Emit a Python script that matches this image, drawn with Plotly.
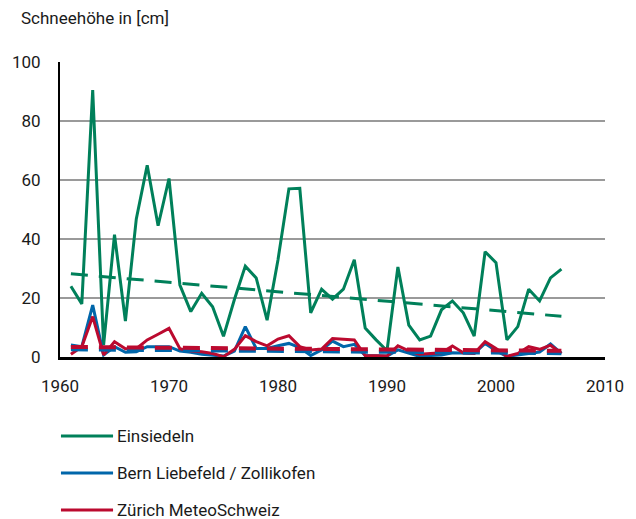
import plotly.graph_objects as go

years = [1961, 1962, 1963, 1964, 1965, 1966, 1967, 1968, 1969, 1970,
         1971, 1972, 1973, 1974, 1975, 1976, 1977, 1978, 1979, 1980,
         1981, 1982, 1983, 1984, 1985, 1986, 1987, 1988, 1989, 1990,
         1991, 1992, 1993, 1994, 1995, 1996, 1997, 1998, 1999, 2000,
         2001, 2002, 2003, 2004, 2005, 2006]

einsiedeln = [24, 18, 90.5, 4, 41.5, 12.2, 46.8, 65, 44.5, 60.5,
              24.4, 15.4, 21.6, 17, 7, 19.5, 30.8, 26.8, 12.5, 33,
              57, 57.2, 15, 23, 19.6, 23, 33, 9.8, 5.8, 2.1,
              30.5, 10.8, 5.8, 7.1, 16, 19, 15, 7.1, 35.7, 32,
              5.8, 10.3, 23, 19, 26.8, 29.8]

bern = [4.1, 3.5, 17.6, 0.7, 3.5, 1.6, 1.8, 3.5, 3.5, 3.5,
        2.0, 1.6, 0.9, 0.7, 0.3, 2.0, 10.3, 2.9, 2.9, 3.8,
        4.6, 3.2, 0.5, 2.4, 5.4, 3.5, 4.3, 0.5, 0.5, 0.3,
        2.4, 1.3, 0.2, 0.5, 0.7, 1.4, 1.2, 1.2, 4.6, 2.1,
        0.2, 0.6, 1.2, 1.7, 4.4, 1.2]

zuerich = [0.9, 3.5, 13.7, 0.7, 5.2, 2.8, 2.8, 5.8, 7.7, 9.7,
           2.8, 2.0, 1.8, 1.2, 0.1, 2.6, 7.2, 5.2, 3.8, 6.1,
           7.2, 3.5, 2.4, 2.7, 6.3, 6.1, 5.8, 0.5, 0.3, 0.3,
           3.8, 2.1, 0.9, 1.2, 1.4, 3.7, 1.4, 1.2, 5.2, 2.9,
           0.2, 1.2, 3.5, 2.6, 4.0, 1.2]

trend_years = [1961, 2006]
trend_einsiedeln = [28.2, 13.8]
trend_bern = [2.6, 1.3]
trend_zuerich = [3.4, 2.1]

series_names = ["Einsiedeln", "Bern Liebefeld / Zollikofen", "Zürich MeteoSchweiz"]
x_ticks = [1960, 1970, 1980, 1990, 2000, 2010]
y_ticks = [0, 20, 40, 60, 80, 100]

GREEN = "#00805A"
BLUE = "#0066AA"
RED = "#BB0A2F"
FONT = "Roboto, Liberation Sans, sans-serif"
TXT = "#1a1a1a"
FS = 17

fig = go.Figure()
fig.add_trace(go.Scatter(x=years, y=einsiedeln, mode="lines",
                         line=dict(color=GREEN, width=3), name=series_names[0]))
fig.add_trace(go.Scatter(x=years, y=bern, mode="lines",
                         line=dict(color=BLUE, width=3), name=series_names[1]))
fig.add_trace(go.Scatter(x=years, y=zuerich, mode="lines",
                         line=dict(color=RED, width=3), name=series_names[2]))
fig.add_trace(go.Scatter(x=trend_years, y=trend_einsiedeln, mode="lines",
                         line=dict(color=GREEN, width=3, dash="17px,11px")))
fig.add_trace(go.Scatter(x=trend_years, y=trend_bern, mode="lines",
                         line=dict(color=BLUE, width=4, dash="17px,11px")))
fig.add_trace(go.Scatter(x=trend_years, y=trend_zuerich, mode="lines",
                         line=dict(color=RED, width=4, dash="17px,11px")))

W, H = 636, 519
L, R, T, B = 52, 19, 62, 162
fig.update_layout(
    width=W, height=H,
    margin=dict(l=L, r=R, t=T, b=B),
    paper_bgcolor="white", plot_bgcolor="white",
    showlegend=False,
    hovermode=False,
    font=dict(family=FONT, size=FS, color=TXT),
    xaxis=dict(range=[1960, 2010], tickvals=x_ticks, ticktext=[str(v) for v in x_ticks],
               showgrid=False, zeroline=False, showline=True, linecolor="black",
               linewidth=3, ticks="", ticklabelstandoff=12, ticklabeloverflow="allow",
               tickfont=dict(family=FONT, size=FS, color=TXT)),
    yaxis=dict(range=[0, 100], tickvals=y_ticks, ticktext=[str(v) for v in y_ticks],
               showgrid=True, gridcolor="#9a9a9a", gridwidth=1.5, zeroline=False,
               showline=True, linecolor="black", linewidth=2, ticks="",
               ticklabelstandoff=14,
               tickfont=dict(family=FONT, size=FS, color=TXT)),
)

pw, ph = W - L - R, H - T - B

# title
fig.add_annotation(text="Schneehöhe in [cm]", xref="paper", yref="paper",
                   x=-(L - 10) / pw, y=1 + (T - 18) / ph,
                   xanchor="left", yanchor="middle", showarrow=False,
                   font=dict(family=FONT, size=FS, color=TXT))

# legend (below the plot)
colors = [GREEN, BLUE, RED]
leg_y = [436, 473, 510]
for name, c, yy in zip(series_names, colors, leg_y):
    yp = 1 - (yy - T) / ph
    fig.add_shape(type="line", xref="paper", yref="paper",
                  x0=(53 - L) / pw, x1=(107 - L) / pw, y0=yp, y1=yp,
                  line=dict(color=c, width=3))
    fig.add_annotation(text=name, xref="paper", yref="paper",
                       x=(109 - L) / pw, y=yp, xanchor="left", yanchor="middle",
                       showarrow=False,
                       font=dict(family=FONT, size=FS, color=TXT))

fig.write_html("out.html", config={"displayModeBar": False},
               post_script="document.body.style.margin='0';document.body.style.overflow='hidden';")
